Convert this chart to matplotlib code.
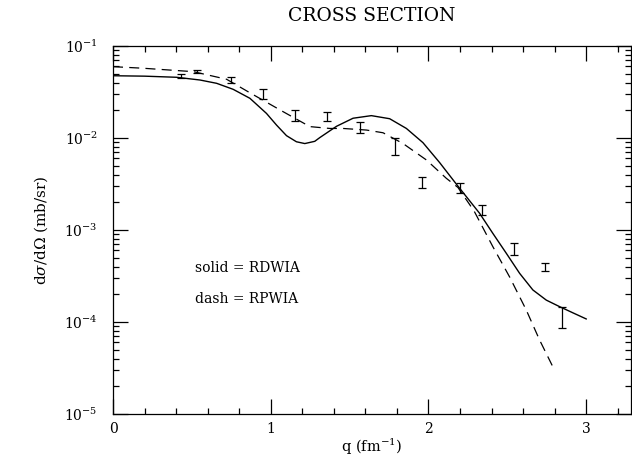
import numpy as np
import matplotlib
matplotlib.use("Agg")
import matplotlib.pyplot as plt
from matplotlib.ticker import MultipleLocator, LogLocator, NullFormatter

plt.rcParams['font.family'] = ['DejaVu Serif']
plt.rcParams['mathtext.fontset'] = 'dejavuserif'

# RDWIA curve (solid)
q_solid = [0.0, 0.2, 0.403, 0.551, 0.657, 0.762, 0.868, 0.973, 1.037, 1.100, 1.163,
           1.216, 1.279, 1.311, 1.417, 1.522, 1.638, 1.754, 1.860, 1.965, 2.071,
           2.177, 2.324, 2.408, 2.493, 2.578, 2.662, 2.747, 2.831, 2.915, 3.0]
xs_solid = [0.0475, 0.0470, 0.0457, 0.0427, 0.0393, 0.0338, 0.0270, 0.0185, 0.0138,
            0.0106, 0.0091, 0.0087, 0.0092, 0.0101, 0.0134, 0.0164, 0.0175, 0.0162,
            0.0127, 0.0089, 0.0054, 0.00315, 0.00152, 0.00092, 0.00056, 0.000338,
            0.000223, 0.000173, 0.000147, 0.000126, 0.000108]

# RPWIA curve (dash)
q_dash = [0.0, 0.192, 0.509, 0.720, 0.868, 1.079, 1.248, 1.374, 1.458, 1.607, 1.712,
          1.839, 1.987, 2.113, 2.187, 2.29, 2.408, 2.514, 2.620, 2.704, 2.799]
xs_dash = [0.0596, 0.0573, 0.0526, 0.0435, 0.031, 0.0193, 0.0133, 0.0127, 0.0127,
           0.0122, 0.0114, 0.0087, 0.00577, 0.00365, 0.0029, 0.0016, 0.00066,
           0.00031, 0.000135, 6.4e-5, 3.0e-5]

# data points (error bar ends)
q_data = [0.429, 0.534, 0.745, 0.948, 1.157, 1.357, 1.564, 1.786, 1.959, 2.198,
          2.338, 2.542, 2.736, 2.848]
xs_low = [0.0452, 0.0513, 0.0394, 0.0264, 0.0153, 0.0153, 0.0112, 0.0065, 0.00284,
          0.00254, 0.00146, 0.000535, 0.000361, 0.0000855]
xs_high = [0.0497, 0.0548, 0.0457, 0.0341, 0.0202, 0.0190, 0.0150, 0.0099, 0.0038,
           0.00322, 0.00187, 0.000716, 0.000442, 0.000147]

fig = plt.figure(figsize=(6.32, 4.59), dpi=100)
ax = fig.add_axes([0.1788, 0.098, 0.8196, 0.8018])

ax.plot(q_solid, xs_solid, color='black', lw=1.0)
ax.plot(q_dash, xs_dash, color='black', lw=0.9, dashes=(8, 5))

lo = np.array(xs_low)
hi = np.array(xs_high)
mid = np.sqrt(lo * hi)
ax.errorbar(q_data, mid, yerr=[mid - lo, hi - mid], fmt='none', ecolor='black',
            elinewidth=0.9, capsize=3, capthick=0.9)

ax.set_yscale('log')
ax.set_xlim(0, 3.284)
ax.set_ylim(1e-5, 1e-1)

ax.xaxis.set_major_locator(MultipleLocator(1))
ax.xaxis.set_minor_locator(MultipleLocator(0.2))
ax.yaxis.set_major_locator(LogLocator(base=10))
ax.yaxis.set_minor_locator(LogLocator(base=10, subs=np.arange(2, 10)))
ax.yaxis.set_minor_formatter(NullFormatter())

ax.tick_params(which='both', direction='in', top=True, right=True, width=0.9)
ax.tick_params(which='major', length=11)
ax.tick_params(which='minor', length=4.5)
ax.tick_params(axis='x', labelsize=10, pad=6)
ax.tick_params(axis='y', labelsize=10, pad=11)
for s in ax.spines.values():
    s.set_linewidth(0.9)

ax.set_xlabel(r'q (fm$^{-1}$)', fontsize=10.5, labelpad=0)
ax.set_ylabel(r'd$\sigma$/d$\Omega$ (mb/sr)', fontsize=11, labelpad=10)
ax.set_title('CROSS SECTION', fontsize=13.5, pad=18)

ax.text(0.158, 0.397, 'solid = RDWIA', transform=ax.transAxes, fontsize=10, va='center')
ax.text(0.158, 0.3125, 'dash = RPWIA', transform=ax.transAxes, fontsize=10, va='center')

fig.savefig('out.png', dpi=100)
